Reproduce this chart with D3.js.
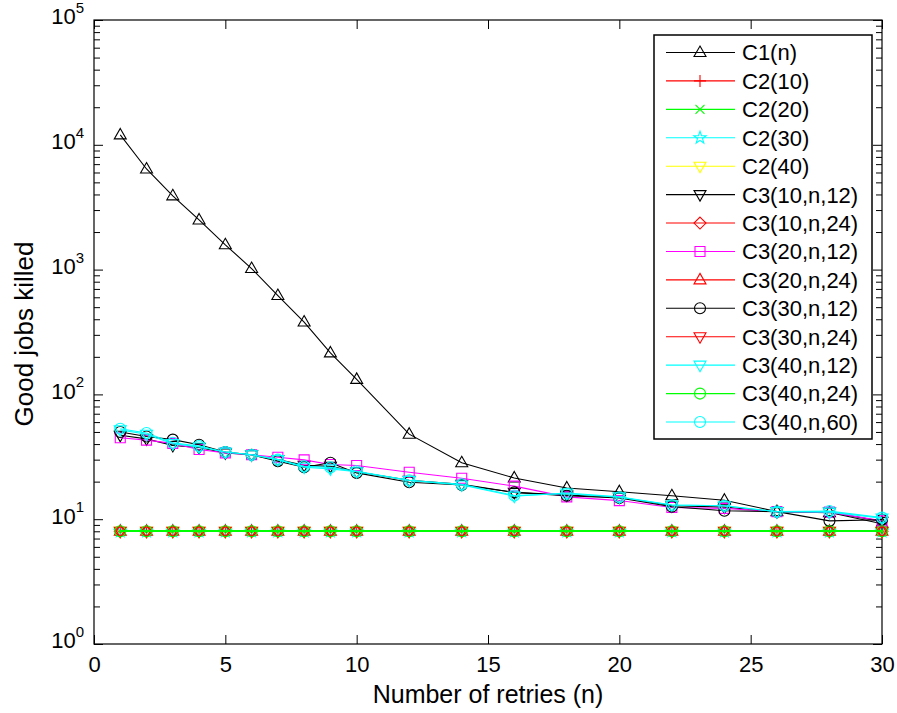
<!DOCTYPE html>
<html>
<head>
<meta charset="utf-8">
<script src="https://cdn.jsdelivr.net/npm/d3@7"></script>
<style>
  body { margin: 0; background: #fff; }
  svg { display: block; font-family: "Liberation Sans", Arial, Helvetica, sans-serif; }
  .tick line { stroke: #000; }
  .domain { display: none; }
</style>
</head>
<body>
<svg id="chart" width="897" height="713"></svg>
<script>
// retries (n)
var retries = [1, 2, 3, 4, 5, 6, 7, 8, 9, 10, 12, 14, 16, 18, 20, 22, 24, 26, 28, 30];

var c1_n      = [12000, 6400, 3900, 2500, 1580, 1020, 620, 380, 215, 132, 48, 28.3, 21.4, 17.8, 16.6, 15.4, 14.2, 11.5, 11.3, 9.2];
var c2_10     = [8, 8, 8, 8, 8, 8, 8, 8, 8, 8, 8, 8, 8, 8, 8, 8, 8, 8, 8, 8];
var c2_20     = [8, 8, 8, 8, 8, 8, 8, 8, 8, 8, 8, 8, 8, 8, 8, 8, 8, 8, 8, 8];
var c2_30     = [8, 8, 8, 8, 8, 8, 8, 8, 8, 8, 8, 8, 8, 8, 8, 8, 8, 8, 8, 8];
var c2_40     = [8, 8, 8, 8, 8, 8, 8, 8, 8, 8, 8, 8, 8, 8, 8, 8, 8, 8, 8, 8];
var c3_10_12  = [47, 44, 39, 37.5, 34, 32.8, 30, 27, 26.5, 24, 20.5, 19, 16.4, 15.6, 15, 12.8, 12.5, 11.5, 11.4, 9.6];
var c3_10_24  = [8, 8, 8, 8, 8, 8, 8, 8, 8, 8, 8, 8, 8, 8, 8, 8, 8, 8, 8, 8];
var c3_20_12  = [45, 43, 40.5, 36.2, 34, 32.8, 31.4, 29.9, 27.4, 26.9, 23.8, 21.3, 18.4, 15.1, 14.1, 12.4, 12.2, 11.5, 11.4, 9.7];
var c3_20_24  = [8, 8, 8, 8, 8, 8, 8, 8, 8, 8, 8, 8, 8, 8, 8, 8, 8, 8, 8, 8];
var c3_30_12  = [50, 46, 43.4, 39.5, 34.5, 32.8, 29.2, 26.1, 28.3, 23.5, 19.8, 18.8, 16.4, 15.4, 14.8, 12.6, 11.7, 11.5, 9.7, 9.9];
var c3_30_24  = [8, 8, 8, 8, 8, 8, 8, 8, 8, 8, 8, 8, 8, 8, 8, 8, 8, 8, 8, 8];
var c3_40_12  = [52, 48, 40.3, 37.9, 34.5, 32.8, 30, 26.1, 25.3, 24, 20.4, 18.8, 15.3, 16.2, 15.1, 13, 12.8, 11.5, 11.4, 10.2];
var c3_40_24  = [8, 8, 8, 8, 8, 8, 8, 8, 8, 8, 8, 8, 8, 8, 8, 8, 8, 8, 8, 8];
var c3_40_60  = [53, 49, 41, 38.5, 34.5, 32.8, 30, 26.5, 26, 24.2, 20.5, 19, 15.5, 16, 15, 13, 12.8, 11.5, 11.6, 10.3];

var seriesNames   = ["C1(n)", "C2(10)", "C2(20)", "C2(30)", "C2(40)", "C3(10,n,12)", "C3(10,n,24)", "C3(20,n,12)",
                     "C3(20,n,24)", "C3(30,n,12)", "C3(30,n,24)", "C3(40,n,12)", "C3(40,n,24)", "C3(40,n,60)"];
var seriesValues  = [c1_n, c2_10, c2_20, c2_30, c2_40, c3_10_12, c3_10_24, c3_20_12, c3_20_24, c3_30_12, c3_30_24, c3_40_12, c3_40_24, c3_40_60];
var seriesColors  = ["#000", "#f00", "#0f0", "#0ff", "#ff0", "#000", "#f00", "#f0f", "#f00", "#000", "#f00", "#0ff", "#0f0", "#0ff"];
var seriesMarkers = ["tu", "plus", "x", "star", "td", "td", "diamond", "square", "tu", "circle", "td", "td", "circle", "circle"];

var xTicks = [0, 5, 10, 15, 20, 25, 30];
var yTicks = [1, 10, 100, 1000, 10000, 100000];

var svg = d3.select("svg#chart");
var margin = { left: 94, right: 15, top: 20, bottom: 69 };
var width = 897 - margin.left - margin.right,
	height = 713 - margin.top - margin.bottom;

var x = d3.scaleLinear().domain([0, 30]).range([0, width]);
var y = d3.scaleLog().domain([1, 100000]).range([height, 0]);

var g = svg.append("g").attr("transform", "translate(" + margin.left + "," + margin.top + ")");

// minor log ticks
var minor = [];
yTicks.slice(0, -1).forEach(function(d) {
	for (var k = 2; k < 10; k++) minor.push(d * k);
});

function marker(type) {
	if (type == "tu") return "M0,-6.5L6,4L-6,4Z";
	if (type == "td") return "M0,6.5L6,-4L-6,-4Z";
	if (type == "plus") return "M-6,0H6M0,-6V6";
	if (type == "x") return "M-4.5,-4.5L4.5,4.5M-4.5,4.5L4.5,-4.5";
	if (type == "diamond") return "M0,-6L6,0L0,6L-6,0Z";
	if (type == "square") return "M-5,-5H5V5H-5Z";
	if (type == "circle") return "M5.5,0A5.5,5.5 0 1,1 -5.5,0A5.5,5.5 0 1,1 5.5,0Z";
	if (type == "star") {
		var p = [];
		for (var i = 0; i < 10; i++) {
			var r = i % 2 ? 2.6 : 6.5, a = -Math.PI / 2 + i * Math.PI / 5;
			p.push((r * Math.cos(a)).toFixed(2) + "," + (r * Math.sin(a)).toFixed(2));
		}
		return "M" + p.join("L") + "Z";
	}
}

// axes: ticks point inward, mirrored on all sides
g.append("g").attr("transform", "translate(0," + height + ")")
	.call(d3.axisBottom(x).tickValues(xTicks).tickSize(-9).tickPadding(12))
	.selectAll("text").attr("font-size", 22).attr("fill", "#000").attr("font-family", "Liberation Sans, Arial");
g.append("g")
	.call(d3.axisTop(x).tickValues(xTicks).tickSize(-9).tickFormat(""));

var yLeft = g.append("g").call(d3.axisLeft(y).tickValues(yTicks).tickSize(-9).tickFormat(""));
g.append("g").call(d3.axisLeft(y).tickValues(minor).tickSize(-6).tickFormat(""));
g.append("g").attr("transform", "translate(" + width + ",0)")
	.call(d3.axisRight(y).tickValues(yTicks).tickSize(-9).tickFormat(""));
g.append("g").attr("transform", "translate(" + width + ",0)")
	.call(d3.axisRight(y).tickValues(minor).tickSize(-6).tickFormat(""));

// y labels 10^k
yLeft.selectAll(".tick").each(function(d) {
	var t = d3.select(this).append("text")
		.attr("x", -10).attr("y", 0).attr("dy", "0.38em")
		.attr("text-anchor", "end").attr("fill", "#000")
		.attr("font-family", "Liberation Sans, Arial");
	t.append("tspan").attr("font-size", 22).text("10");
	t.append("tspan").attr("font-size", 15).attr("dy", "-0.75em").text(Math.round(Math.log10(d)));
});

g.append("rect").attr("width", width).attr("height", height)
	.attr("fill", "none").attr("stroke", "#000").attr("stroke-width", 1.2);

// series
var line = d3.line()
	.x(function(d, i) { return x(retries[i]); })
	.y(function(d) { return y(d); });

seriesValues.forEach(function(vals, si) {
	var sg = g.append("g");
	var ext = d3.extent(vals);
	sg.append("path").datum(vals)
		.attr("d", line)
		.attr("fill", "none")
		.attr("stroke", seriesColors[si])
		.attr("stroke-width", ext[0] == ext[1] ? 1.6 : 1.1)
		.attr("shape-rendering", ext[0] == ext[1] ? "crispEdges" : "auto");
	sg.selectAll("path.m").data(vals).enter().append("path")
		.attr("class", "m")
		.attr("transform", function(d, i) { return "translate(" + x(retries[i]) + "," + y(d) + ")"; })
		.attr("d", marker(seriesMarkers[si]))
		.attr("fill", "none")
		.attr("stroke", seriesColors[si])
		.attr("stroke-width", 1.1);
});

// legend
var leg = svg.append("g").attr("transform", "translate(654,35)");
leg.append("rect").attr("width", 218).attr("height", 404)
	.attr("fill", "#fff").attr("stroke", "#000").attr("stroke-width", 1.5);
var rowY = d3.scaleLinear().domain([0, 13]).range([17.5, 387]);
seriesNames.forEach(function(name, si) {
	var row = leg.append("g").attr("transform", "translate(0," + rowY(si) + ")");
	row.append("line").attr("x1", 12).attr("x2", 81)
		.attr("stroke", seriesColors[si]).attr("stroke-width", 1.1);
	row.append("path").attr("transform", "translate(46,0)")
		.attr("d", marker(seriesMarkers[si]))
		.attr("fill", "none").attr("stroke", seriesColors[si]).attr("stroke-width", 1.1);
	row.append("text").attr("x", 88).attr("dy", "0.36em")
		.attr("font-size", 22).attr("fill", "#000").text(name);
});

// axis titles
svg.append("text")
	.attr("x", margin.left + width / 2).attr("y", 703)
	.attr("text-anchor", "middle").attr("font-size", 25).text("Number of retries (n)");
svg.append("text")
	.attr("transform", "translate(33,334) rotate(-90)")
	.attr("text-anchor", "middle").attr("font-size", 26).text("Good jobs killed");
</script>
</body>
</html>
